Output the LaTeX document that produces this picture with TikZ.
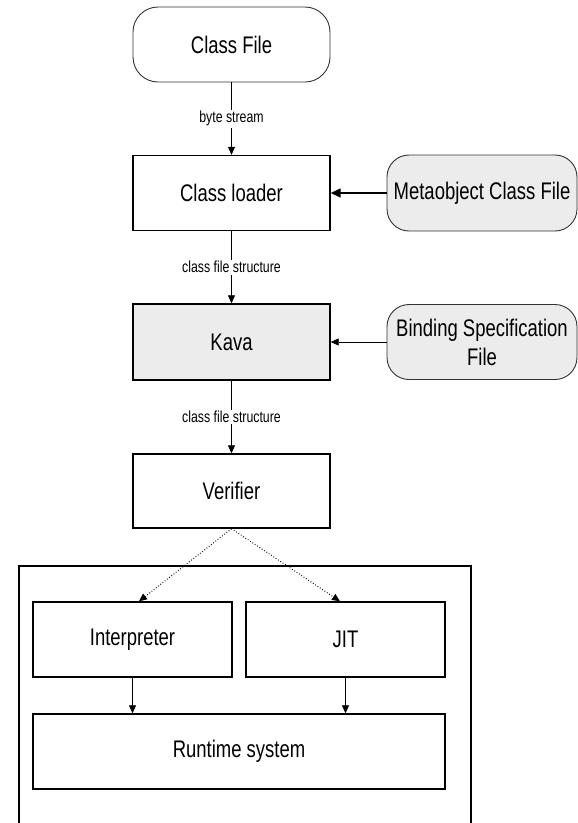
\documentclass[tikz,border=0pt]{standalone}
\usepackage{fontspec}
\newfontfamily\diagfont[FakeStretch=0.77]{Liberation Sans}
\usetikzlibrary{arrows.meta}

\begin{document}
\begin{tikzpicture}[x=1pt,y=-1pt,
  big/.style={font=\diagfont\fontsize{24}{29}\selectfont},
  small/.style={font=\diagfont\fontsize{16}{18}\selectfont},
  stage/.style={rectangle,draw,line width=1.4pt,minimum width=197pt,minimum height=75pt,big},
  source/.style={rectangle,draw=black!80,line width=0.9pt,rounded corners=22pt,minimum width=190pt,minimum height=76pt,align=center,big},
  flow/.style={draw,line width=0.8pt,-{Triangle[length=8pt,width=7pt]}},
  lbl/.style={midway,fill=white,inner sep=1.5pt,small}]
\useasboundingbox (0,0) rectangle (578,823);
% runtime area first, so the boxes sit on top
\path (245,696) node(jvm) [rectangle,draw,line width=1.4pt,minimum width=452pt,minimum height=260pt] {};
\path
(231.5,44.5) node(cf) [source,fill=white,minimum width=197pt,minimum height=75pt,rounded corners=25pt] {Class File}
(231.5,193) node(cl) [stage] {Class loader}
(482,193) node(mo) [source,fill=gray!15] {Metaobject Class File}
(231.5,342) node(kava) [stage,fill=gray!15,minimum height=76pt] {Kava}
(482,342) node(bs) [source,fill=gray!15,minimum height=75pt] {Binding Specification\\File}
(231.5,491) node(ver) [stage,minimum height=74pt] {Verifier}
(132.5,639.5) node(interp) [stage,minimum width=199pt] {Interpreter}
(345.5,639.5) node(jit) [stage,minimum width=199pt] {JIT}
(239,751.5) node(rt) [stage,minimum width=412pt] {Runtime system};
\draw[flow] (cf) -- (cl) node[lbl] {byte stream};
\draw[flow,line width=1.4pt,-{Triangle[length=10pt,width=9pt]}] (mo) -- (cl);
\draw[flow] (cl) -- (kava) node[lbl] {class file structure};
\draw[flow] (bs) -- (kava);
\draw[flow] (kava) -- (ver) node[lbl] {class file structure};
\draw[flow,dotted,line width=1pt] (ver.south) -- ([xshift=6.5pt]interp.north);
\draw[flow,dotted,line width=1pt] (ver.south) -- ([xshift=-5.5pt]jit.north);
\draw[flow] (interp) -- (interp |- rt.north);
\draw[flow] (jit) -- (jit |- rt.north);
\end{tikzpicture}
\end{document}
